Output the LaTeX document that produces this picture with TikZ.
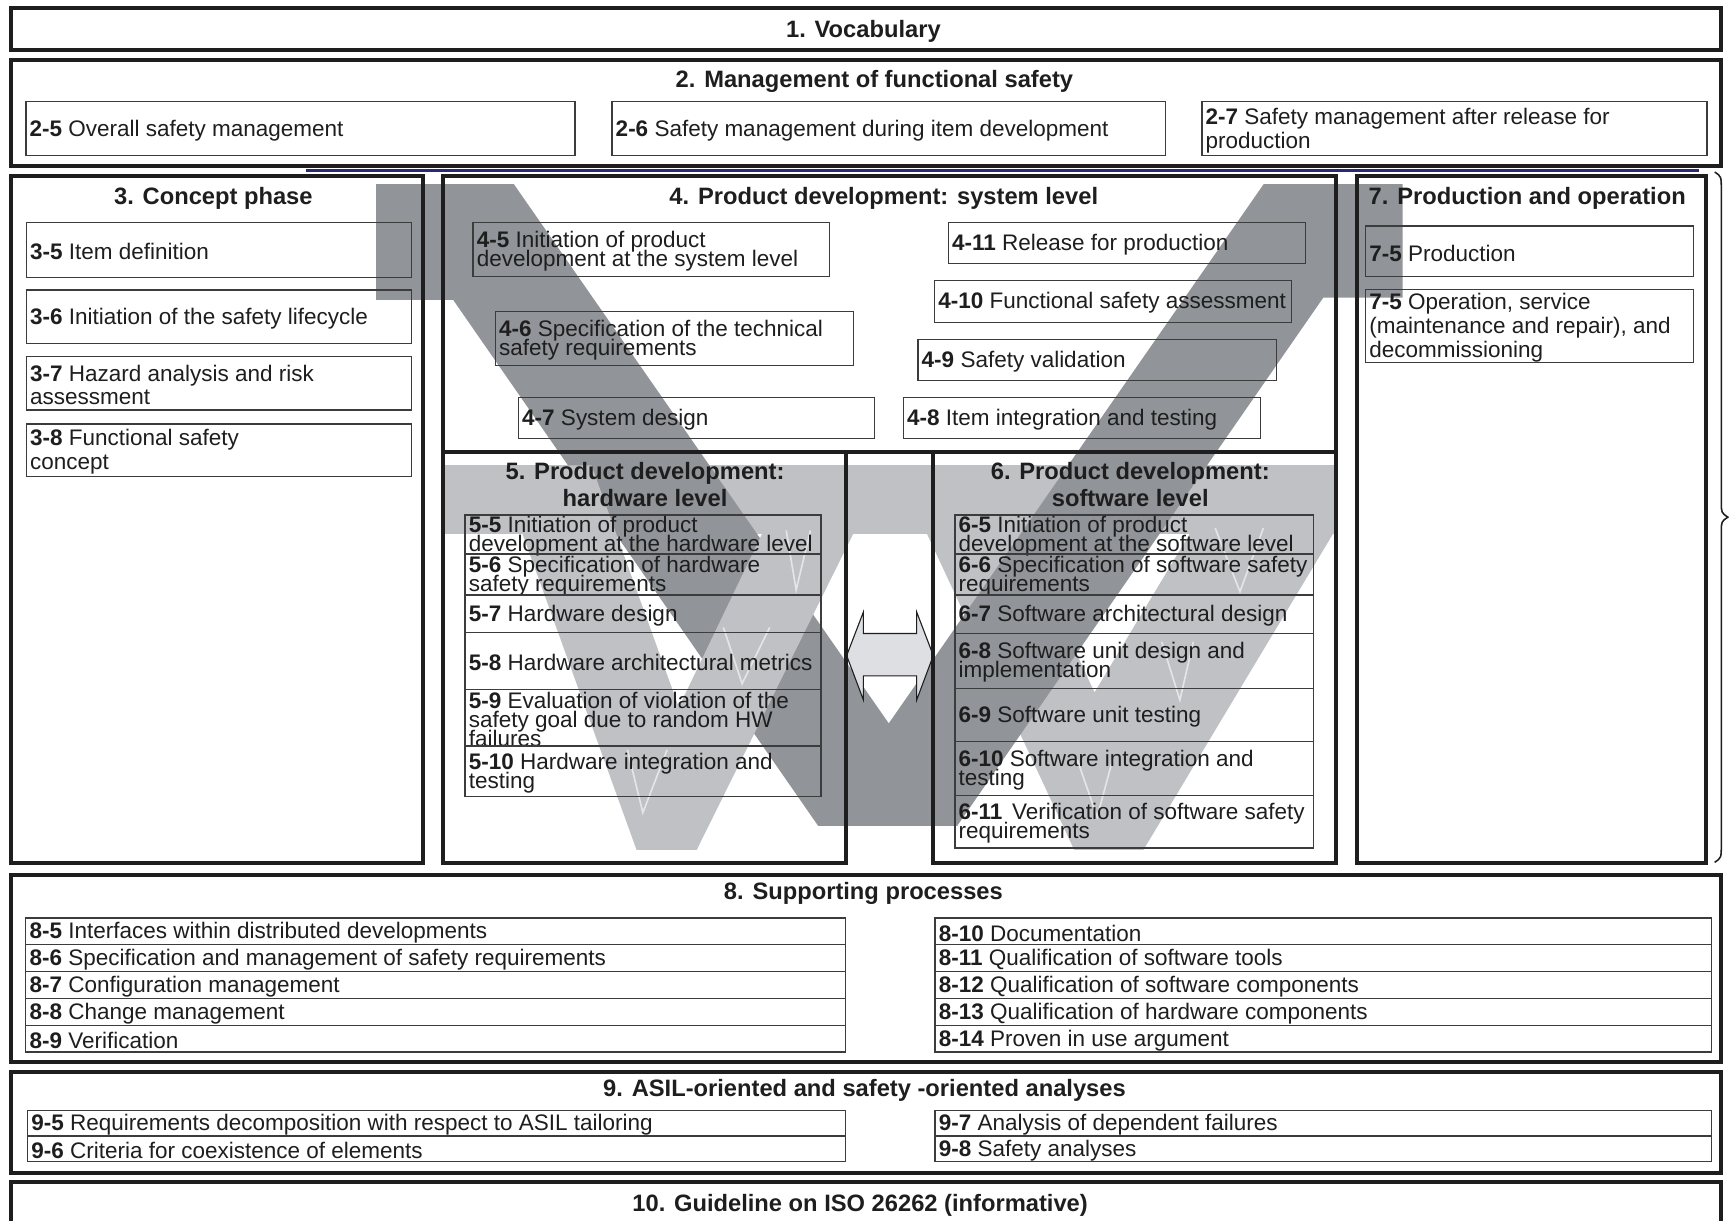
\documentclass[tikz,border=0pt]{standalone}
\usepackage{fontspec}
\setmainfont{Liberation Sans}
\usetikzlibrary{fit}
\definecolor{ink}{RGB}{30,30,30}
\definecolor{frame}{RGB}{60,60,60}
\definecolor{vdark}{RGB}{145,148,152}
\definecolor{vlight}{RGB}{191,193,197}
\definecolor{vseam}{RGB}{228,229,231}
\definecolor{arrowfill}{RGB}{222,223,226}
\definecolor{navyline}{RGB}{40,40,120}
\tikzset{
  outerframe/.style={draw=ink, line width=3.6pt, inner sep=0pt},
  itemframe/.style={draw=frame, line width=1.2pt, inner sep=0pt},
  itemtxt/.style={inner sep=0pt, align=left, text=ink,
    font=\fontsize{20.4}{17.5}\selectfont},
  itemtxtloose/.style={itemtxt, font=\fontsize{20.4}{21.5}\selectfont},
  titletxt/.style={inner sep=0pt, align=center, text=ink,
    font=\bfseries\fontsize{21.5}{24}\selectfont},
  vnotch/.style={draw=vseam, line width=1.5pt},
}
% framed item with a left-aligned label
\newcommand\ibox[5][itemtxt]{%
  \node[itemframe, fit={(#3) (#4)}] (#2) {};
  \node[#1, anchor=west] (#2t) at ([xshift=3.8pt,yshift=-1.5pt]#2.west) {#5};}
% thick section frame
\newcommand\obox[3]{\node[outerframe, fit={(#2) (#3)}] (#1) {};}

\begin{document}
\lineskiplimit=-100pt
\begin{tikzpicture}[x=1pt,y=-1pt]
\useasboundingbox (0,0) rectangle (1568,1107);
\fill[white] (0,0) rectangle (1568,1107);

% ---- background V shapes ----
% light band across hardware and software level
\fill[vlight] (404,422) rectangle (1210,484);
% software-level V
\fill[vlight] (811.7,422) -- (896.7,422) -- (992.6,627.9) -- (1116.2,422)
  -- (1209.2,422) -- (1209.2,483.6) -- (1036.9,770.8) -- (974.2,770.8) -- cycle;
% large system-level V
\fill[vdark] (341,167) -- (466,167) -- (806,656) -- (1146,167) -- (1272,167)
  -- (1272,270) -- (1200,270) -- (868,749) -- (742,749) -- (411,272)
  -- (341,272) -- cycle;
% hardware-level V
\fill[vlight] (451.4,422) -- (536.4,422) -- (615.6,641.4) -- (720.9,422)
  -- (804.5,422) -- (631.8,770.8) -- (577.3,770.8) -- cycle;
% seams inside the light V's
\draw[vnotch] (713,481) -- (722,535) -- (735,481);
\draw[vnotch] (656,569) -- (673,620) -- (698,569);
\draw[vnotch] (569,680) -- (583,737) -- (605,680);
\draw[vnotch] (1102,479) -- (1124.5,536.6) -- (1145.7,479);
\draw[vnotch] (1053.5,582) -- (1070,634.8) -- (1082.2,582);
\draw[vnotch] (977,689) -- (995,741) -- (1009,689);

% double arrow between hardware and software level
\draw[ink, line width=1pt, fill=arrowfill, line join=miter]
  (767.8,594.5) -- (783,555) -- (783,574.5) -- (831.3,574.5) -- (831.3,555)
  -- (846.4,594.5) -- (831.3,634.8) -- (831.3,613) -- (783,613) -- (783,634.8)
  -- cycle;

% ---- section frames ----
\obox{b1}{9.7,7.6}{1561,45.3}
\obox{b2}{9.7,54.4}{1561,150.2}
\draw[navyline, line width=2.6pt] (277.5,155) -- (1541,155);
\obox{b3}{9.7,159.5}{383.5,782.5}
\obox{b4}{402,159.5}{1211.6,409.6}
\obox{b5}{402,409.6}{767.2,782.5}
\obox{b6}{846.4,409.6}{1211.6,782.5}
\obox{b7}{1230.3,159.5}{1547.5,782.5}
\obox{b8}{9.7,793.5}{1561,962.8}
\obox{b9}{9.7,972.5}{1561,1064}
\obox{b10}{9.7,1071.6}{1561,1114}

% brace at the right of the middle part
\draw[ink, line width=1.4pt] (1555,156) .. controls (1561,160) .. (1561,172)
  -- (1561,455) .. controls (1561,465) .. (1567,469)
  .. controls (1561,473) .. (1561,483) -- (1561,766)
  .. controls (1561,778) .. (1555,782);

% ---- titles ----
\node[titletxt, anchor=base] (t1) at (783,34) {1. Vocabulary};
\node[titletxt, anchor=base] (t2) at (793,79.5) {2. Management of functional safety};
\node[titletxt, anchor=base] (t3) at (193.5,185.5) {3. Concept phase};
\node[titletxt, anchor=base] (t4) at (801.5,185.5) {4. Product development: system level};
\node[titletxt] (t5) at (585,439.5) {5. Product development:\\hardware level};
\node[titletxt] (t6) at (1025,439.5) {6. Product development:\\software level};
\node[titletxt, anchor=base] (t7) at (1385,185.5) {7. Production and operation};
\node[titletxt, anchor=base] (t8) at (783,815.5) {8. Supporting processes};
\node[titletxt, anchor=base] (t9) at (784,994.5) {9. ASIL-oriented and safety -oriented analyses};
\node[titletxt, anchor=base] (t10) at (780,1098.5) {10. Guideline on ISO 26262 (informative)};

% ---- 2: management ----
\ibox{i25}{23.5,92.2}{521.4,141.2}{\textbf{2-5} Overall safety management}
\ibox{i26}{555,92.2}{1057,141.2}{\textbf{2-6} Safety management during item development}
\ibox[itemtxtloose]{i27}{1090,92.2}{1548,141.2}{\textbf{2-7} Safety management after release for\\production}

% ---- 3: concept phase ----
\ibox{i35}{24,202}{373,251.8}{\textbf{3-5} Item definition}
\ibox{i36}{24,263}{373,311.3}{\textbf{3-6} Initiation of the safety lifecycle}
\ibox[itemtxtloose]{i37}{24,323.4}{373,371.8}{\textbf{3-7} Hazard analysis and risk\\assessment}
\ibox[itemtxtloose]{i38}{24,384.5}{373,432.3}{\textbf{3-8} Functional safety\\concept}

% ---- 4: system level ----
\ibox{i45}{429,201.6}{752.3,250.9}{\textbf{4-5} Initiation of product\\development at the system level}
\ibox{i46}{449.2,282.6}{774.2,331.6}{\textbf{4-6} Specification of the technical\\safety requirements}
\ibox{i47}{470.2,360.6}{793.2,397.5}{\textbf{4-7} System design}
\ibox{i411}{860,201.6}{1183.7,238.8}{\textbf{4-11} Release for production}
\ibox{i410}{847.5,254.5}{1171.2,292.3}{\textbf{4-10} Functional safety assessment}
\ibox{i49}{832.5,307.7}{1157.8,344.9}{\textbf{4-9} Safety validation}
\ibox{i48}{819.2,360.6}{1143.1,397.5}{\textbf{4-8} Item integration and testing}

% ---- 5: hardware level ----
\ibox{i55}{421.7,467}{744.6,502.4}{\textbf{5-5} Initiation of product\\development at the hardware level}
\ibox{i56}{421.7,502.4}{744.6,539.6}{\textbf{5-6} Specification of hardware\\safety requirements}
\ibox{i57}{421.7,539.6}{744.6,573.7}{\textbf{5-7} Hardware design}
\ibox{i58}{421.7,573.7}{744.6,625.1}{\textbf{5-8} Hardware architectural metrics}
\ibox{i59}{421.7,625.1}{744.6,676.5}{\textbf{5-9} Evaluation of violation of the\\safety goal due to random HW\\failures}
\ibox{i510}{421.7,676.5}{744.6,722.5}{\textbf{5-10} Hardware integration and\\testing}

% ---- 6: software level ----
\ibox{i65}{866,467}{1191,502.4}{\textbf{6-5} Initiation of product\\development at the software level}
\ibox{i66}{866,502.4}{1191,539.6}{\textbf{6-6} Specification of software safety\\requirements}
\ibox{i67}{866,539.6}{1191,574.3}{\textbf{6-7} Software architectural design}
\ibox{i68}{866,574.3}{1191,624.1}{\textbf{6-8} Software unit design and\\implementation}
\ibox{i69}{866,624.1}{1191,672.4}{\textbf{6-9} Software unit testing}
\ibox{i610}{866,672.4}{1191,721.4}{\textbf{6-10} Software integration and\\testing}
\ibox{i611}{866,721.4}{1191,769.1}{\textbf{6-11}\hspace{3pt} Verification of software safety\\requirements}

% ---- 7: production and operation ----
\ibox{i75a}{1238.5,205}{1535.6,251}{\textbf{7-5} Production}
\ibox[itemtxtloose]{i75b}{1238.5,262.4}{1535.6,329}{\textbf{7-5} Operation, service\\(maintenance and repair), and\\decommissioning}

% ---- 8: supporting processes ----
\ibox{i85}{23.4,832.5}{766.8,856.8}{\textbf{8-5} Interfaces within distributed developments}
\ibox{i86}{23.4,856.8}{766.8,881.1}{\textbf{8-6} Specification and management of safety requirements}
\ibox{i87}{23.4,881.1}{766.8,905.4}{\textbf{8-7} Configuration management}
\ibox{i88}{23.4,905.4}{766.8,929.7}{\textbf{8-8} Change management}
\ibox{i89}{23.4,929.7}{766.8,954}{\textbf{8-9} Verification}
\ibox{i810}{848,832.5}{1552,856.8}{\textbf{8-10} Documentation}
\ibox{i811}{848,856.8}{1552,881.1}{\textbf{8-11} Qualification of software tools}
\ibox{i812}{848,881.1}{1552,905.4}{\textbf{8-12} Qualification of software components}
\ibox{i813}{848,905.4}{1552,929.7}{\textbf{8-13} Qualification of hardware components}
\ibox{i814}{848,929.7}{1552,954}{\textbf{8-14} Proven in use argument}

% ---- 9: ASIL-oriented analyses ----
\ibox{i95}{25,1007}{767,1030.3}{\textbf{9-5} Requirements decomposition with respect to ASIL tailoring}
\ibox{i96}{25,1030.3}{767,1053.5}{\textbf{9-6} Criteria for coexistence of elements}
\ibox{i97}{848,1007}{1552,1030.3}{\textbf{9-7} Analysis of dependent failures}
\ibox{i98}{848,1030.3}{1552,1053.5}{\textbf{9-8} Safety analyses}
\end{tikzpicture}
\end{document}
